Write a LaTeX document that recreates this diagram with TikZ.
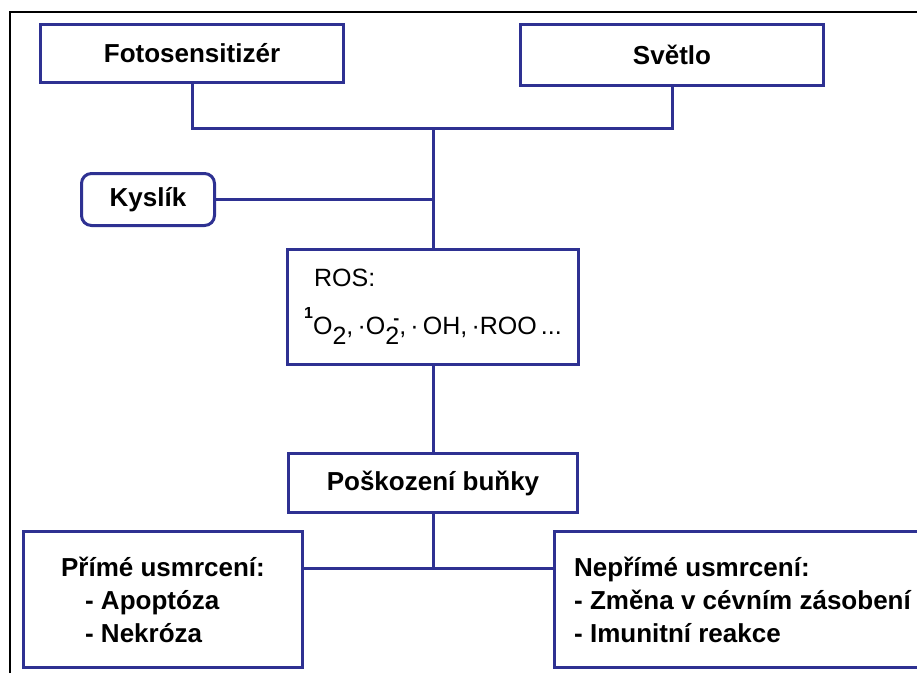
\documentclass[tikz,border=0pt]{standalone}
\usepackage{fontspec}
\setmainfont{Liberation Sans}
\definecolor{boxblue}{RGB}{46,49,146}
\begin{document}
\begin{tikzpicture}[
        x=1pt, y=-1pt,
        every node/.style={font=\fontsize{26}{33}\selectfont\bfseries, inner sep=0pt},
        box/.style={draw=boxblue, line width=3pt, rectangle},
        roundbox/.style={box, rounded corners=10pt},
        link/.style={draw=boxblue, line width=3pt},
        frame/.style={draw=black, line width=2pt},
    ]
    \useasboundingbox (0,0) rectangle (917,673);
    \clip (0,0) rectangle (917,673);
    \draw[frame] (10,673) -- (10,12) -- (917,12);

    \node[box, minimum width=303pt, minimum height=58pt](foto) at (192,53){Fotosensitizér};
    \node[box, minimum width=303pt, minimum height=61pt](svetlo) at (672,55){Světlo};
    \node[roundbox, minimum width=133pt, minimum height=52pt](kyslik) at (148,199.5){Kyslík};
    \node[box, minimum width=291pt, minimum height=115pt, align=left, font=\fontsize{25}{33}\selectfont](ros) at (433,307){%
        \hspace*{10pt}ROS:\\[15pt]
        \raisebox{16pt}{\fontsize{16}{16}\selectfont\bfseries 1}O\raisebox{-10pt}{2},\,·O\makebox[0pt][l]{\raisebox{-10pt}{2}}\makebox[14pt][r]{\raisebox{10pt}{\fontsize{18}{18}\selectfont\bfseries -}},\,·\,OH,\,·ROO\,...};
    \node[box, minimum width=289pt, minimum height=59pt](poskozeni) at (433,483){Poškození buňky};
    \node[box, minimum width=279pt, minimum height=136pt, align=left](prime) at (163,599.5){%
        Přímé usmrcení:\\
        \hspace*{24pt}- Apoptóza\\
        \hspace*{24pt}- Nekróza};
    \node[box, minimum width=376pt, minimum height=136pt, align=left](neprime) at (742.5,599.5){%
        Nepřímé usmrcení:\\
        - Změna v cévním zásobení\\
        - Imunitní reakce};

    \coordinate (join) at (433,128);
    \coordinate (split) at (433,568);
    \draw[link] (foto.south) |- (join) -| (svetlo.south);
    \draw[link] (join) -- (ros.north);
    \draw[link] (kyslik.east) -- (kyslik.east -| ros.north);
    \draw[link] (ros.south) -- (poskozeni.north);
    \draw[link] (poskozeni.south) -- (split);
    \draw[link] (prime.east |- split) -- (neprime.west |- split);
\end{tikzpicture}
\end{document}
